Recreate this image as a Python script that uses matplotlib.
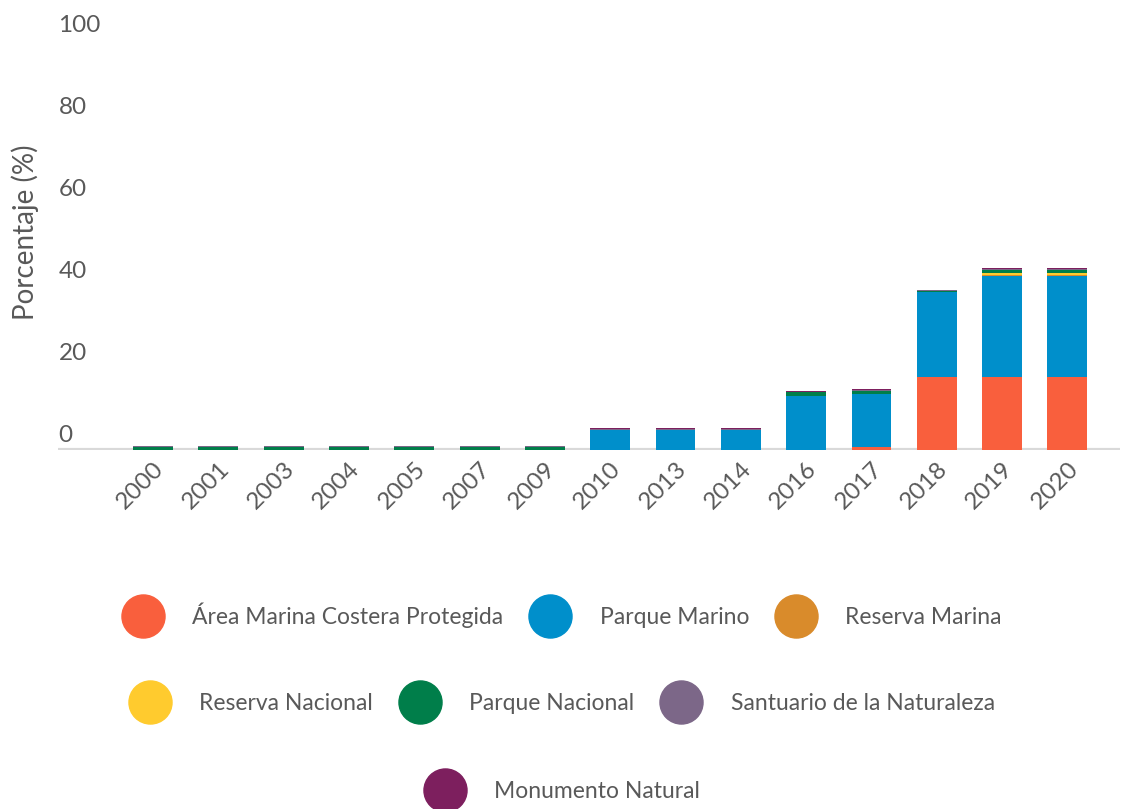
import matplotlib.pyplot as plt
from matplotlib.lines import Line2D
import numpy as np

plt.rcParams['font.family'] = ['Lato', 'DejaVu Sans']

years = ['2000', '2001', '2003', '2004', '2005', '2007', '2009', '2010',
         '2013', '2014', '2016', '2017', '2018', '2019', '2020']

# percentage by category (stacked bottom to top)
amcp = [0, 0, 0, 0, 0, 0, 0, 0, 0, 0, 0, 0.7, 17.8, 17.8, 17.8]
parque_marino = [0, 0, 0, 0, 0, 0, 0, 4.8, 4.8, 4.8, 13.2, 12.9, 20.7, 24.6, 24.6]
reserva_marina = [0, 0, 0, 0, 0, 0, 0, 0, 0, 0, 0, 0, 0, 0.1, 0.1]
reserva_nacional = [0, 0, 0, 0, 0, 0, 0, 0, 0, 0, 0, 0, 0, 0.6, 0.6]
parque_nacional = [0.6, 0.6, 0.6, 0.6, 0.6, 0.6, 0.6, 0.05, 0.05, 0.05, 0.8, 0.8, 0.1, 0.8, 0.8]
santuario = [0.3, 0.3, 0.3, 0.3, 0.3, 0.3, 0.3, 0.3, 0.3, 0.3, 0.2, 0.3, 0.3, 0.3, 0.3]
monumento = [0.05] * 15

series = [
    ('Área Marina Costera Protegida', amcp, '#F95F3D'),
    ('Parque Marino', parque_marino, '#008FCB'),
    ('Reserva Marina', reserva_marina, '#D98B2B'),
    ('Reserva Nacional', reserva_nacional, '#FFCB2E'),
    ('Parque Nacional', parque_nacional, '#007E4A'),
    ('Santuario de la Naturaleza', santuario, '#7C6788'),
    ('Monumento Natural', monumento, '#7D1F5E'),
]

text_color = '#595959'

fig = plt.figure(figsize=(11.23, 8.09), dpi=100)
ax = fig.add_axes([0.052, 0.444, 0.945, 0.507])

x = np.arange(len(years))
bottom = np.zeros(len(years))
for name, vals, color in series:
    ax.bar(x, vals, bottom=bottom, width=0.61, color=color, zorder=3)
    bottom += np.array(vals)

ax.set_ylim(0, 100)
ax.set_xlim(-1.45, len(years) - 0.2)
ax.axhline(0, color='#D9D9D9', lw=3, zorder=2)

for s in ax.spines.values():
    s.set_visible(False)
ax.set_yticks([])
ax.tick_params(axis='x', length=0, pad=6)
ax.set_xticks(x)
ax.set_xticklabels(years, rotation=45, ha='right', rotation_mode='anchor',
                   fontsize=17.5, color=text_color)

# y labels sit a bit above their value, as in the original
for v in range(0, 101, 20):
    ax.text(0.0, v + 3.4, str(v), transform=ax.get_yaxis_transform(),
            fontsize=17.5, color=text_color, ha='left', va='center')

fig.text(0.022, 0.713, 'Porcentaje (%)', rotation=90, fontsize=20,
         color=text_color, ha='center', va='center')

handles = [Line2D([], [], marker='o', linestyle='', markersize=31,
                  markerfacecolor=c, markeredgecolor=c) for _, _, c in series]
labels = [n for n, _, _ in series]
rows = [(0, 3, 0.24), (3, 6, 0.131), (6, 7, 0.022)]
for a, b, y in rows:
    leg = fig.legend(handles[a:b], labels[a:b], loc='center',
                     bbox_to_anchor=(0.5, y), ncol=b - a, frameon=False,
                     fontsize=16.5, handlelength=1.9, handletextpad=1.2,
                     columnspacing=1.1, labelcolor=text_color)

fig.savefig('out.png', dpi=100)
